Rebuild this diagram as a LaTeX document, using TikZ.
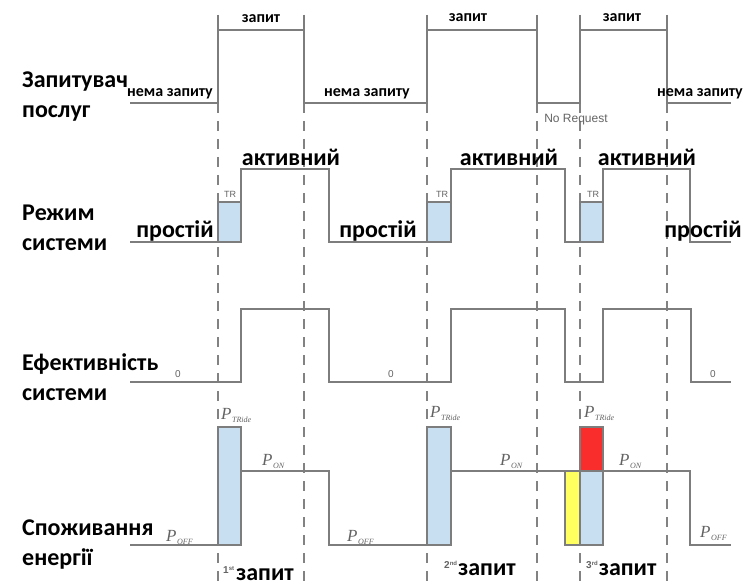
\documentclass[tikz,border=0pt]{standalone}
\usepackage{fontspec}
\setmainfont{Carlito}
\newfontfamily\labsans{Liberation Sans}
\newfontfamily\labserif{Liberation Serif}
\definecolor{sigcol}{RGB}{125,125,125}
\definecolor{guidecol}{RGB}{130,130,130}
\definecolor{trfill}{RGB}{200,223,241}
\definecolor{peakred}{RGB}{250,45,45}
\definecolor{waityel}{RGB}{255,255,95}
\definecolor{notecol}{RGB}{100,100,100}
\newcommand{\bigbold}{\fontsize{24}{30}\selectfont\bfseries}
\newcommand{\midbold}{\fontsize{16}{18}\selectfont\bfseries}
\newcommand{\plab}[1]{{\labserif\itshape\fontsize{17}{17}\selectfont P\kern0.5pt\raisebox{-3pt}{\fontsize{8}{8}\selectfont #1}}}
\newcommand{\nth}[2]{\raisebox{7pt}{\labsans\bfseries\fontsize{10}{10}\selectfont\color{notecol}#1\raisebox{3pt}{\fontsize{6}{6}\selectfont #2}}}
\begin{document}
\begin{tikzpicture}[x=1pt,y=-1pt,
  sig/.style={draw=sigcol,line width=1.4pt,line join=miter},
  guide/.style={draw=guidecol,line width=1.3pt,dash pattern=on 10pt off 8pt},
  box/.style={draw=sigcol,line width=1.2pt},
  rowlab/.style={font=\bigbold,align=left,anchor=north west,inner sep=0pt},
  statelab/.style={font=\bigbold,anchor=base,inner sep=0pt},
  reqlab/.style={font=\midbold,anchor=base,inner sep=0pt},
  tinylab/.style={font=\labsans\fontsize{9}{9}\selectfont,text=notecol,inner sep=0pt},
  zerolab/.style={font=\labsans\fontsize{10}{10}\selectfont,text=notecol,inner sep=0pt},
  powlab/.style={text=notecol,inner sep=0pt,anchor=west},
  nthlab/.style={anchor=base west,inner sep=0pt}]
\useasboundingbox (0,0) rectangle (746,588);
\fill[white] (0,0) rectangle (746,588);

% event instants shared by all four traces
\foreach \t in {218,304,427,537,580,667}{
  \draw[guide] (\t,103) -- (\t,588);
  \draw[sig] (\t,15) -- (\t,30);
}

% energy blocks (drawn before the traces)
\filldraw[box,fill=trfill] (218,427) rectangle (241,545);
\filldraw[box,fill=trfill] (427,427) rectangle (451,545);
\filldraw[box,fill=waityel] (565,471) rectangle (580,545);
\filldraw[box,fill=peakred] (580,427) rectangle (603,471);
\filldraw[box,fill=trfill] (580,471) rectangle (603,545);

% transition blocks of the system mode
\filldraw[box,fill=trfill] (218,202) rectangle (241,242);
\filldraw[box,fill=trfill] (427,202) rectangle (451,242);
\filldraw[box,fill=trfill] (580,202) rectangle (603,242);

% service requester
\draw[sig] (130,103) -- (218,103) -- (218,30) -- (304,30) -- (304,103)
  -- (427,103) -- (427,30) -- (537,30) -- (537,103) -- (580,103)
  -- (580,30) -- (667,30) -- (667,103) -- (731,103);

% system mode
\draw[sig] (130,242) -- (241,242) -- (241,169) -- (329,169) -- (329,242)
  -- (451,242) -- (451,169) -- (565,169) -- (565,242) -- (603,242)
  -- (603,169) -- (690,169) -- (690,242) -- (731,242);

% system performance
\draw[sig] (130,382) -- (241,382) -- (241,309) -- (329,309) -- (329,382)
  -- (451,382) -- (451,309) -- (565,309) -- (565,382) -- (603,382)
  -- (603,309) -- (691,309) -- (691,382) -- (731,382);

% power consumption
\draw[sig] (130,545) -- (241,545) -- (241,471) -- (329,471) -- (329,545)
  -- (451,545) -- (451,471) -- (580,471);
\draw[sig] (603,471) -- (690,471) -- (690,545) -- (731,545);

% row titles
\node[rowlab] (r1) at (22,72)  {Запитувач\\послуг};
\node[rowlab] (r2) at (22,205) {Режим\\системи};
\node[rowlab] (r3) at (22,353) {Ефективність\\системи};
\node[rowlab] (r4) at (22,520) {Споживання\\енергії};

% requester states
\node[reqlab] (q1) at (261,23) {запит};
\node[reqlab] (q2) at (468,22) {запит};
\node[reqlab] (q3) at (622,22) {запит};
\node[reqlab] (n1) at (170,97) {нема запиту};
\node[reqlab] (n2) at (367,97) {нема запиту};
\node[reqlab] (n3) at (700,97) {нема запиту};
\node[font=\labsans\fontsize{12}{12}\selectfont,text=notecol,inner sep=0pt] (nr) at (576,120) {No Request};

% mode states
\node[statelab] (a1) at (291,166) {активний};
\node[statelab] (a2) at (509,166) {активний};
\node[statelab] (a3) at (647,166) {активний};
\node[statelab] (i1) at (175,237) {простій};
\node[statelab] (i2) at (378,237) {простій};
\node[statelab] (i3) at (703,237) {простій};
\node[tinylab] (tr1) at (230,194) {TR};
\node[tinylab] (tr2) at (442,194) {TR};
\node[tinylab] (tr3) at (593,194) {TR};

% performance zero level
\node[zerolab] (z1) at (178,374) {0};
\node[zerolab] (z2) at (391,374) {0};
\node[zerolab] (z3) at (713,374) {0};

% power levels
\node[powlab] (pt1) at (221,415) {\plab{TRide}};
\node[powlab] (pt2) at (430,413) {\plab{TRide}};
\node[powlab] (pt3) at (584,413) {\plab{TRide}};
\node[powlab] (po1) at (262,461) {\plab{ON}};
\node[powlab] (po2) at (500,461) {\plab{ON}};
\node[powlab] (po3) at (619,461) {\plab{ON}};
\node[powlab] (pf1) at (166,537) {\plab{OFF}};
\node[powlab] (pf2) at (347,537) {\plab{OFF}};
\node[powlab] (pf3) at (700,533) {\plab{OFF}};

% request numbers
\node[nthlab] (k1) at (223,580) {\nth{1}{st}\kern2pt{\bigbold запит}};
\node[nthlab] (k2) at (444,575) {\nth{2}{nd}\kern1pt{\bigbold запит}};
\node[nthlab] (k3) at (586,575) {\nth{3}{rd}\kern1pt{\bigbold запит}};
\end{tikzpicture}
\end{document}
